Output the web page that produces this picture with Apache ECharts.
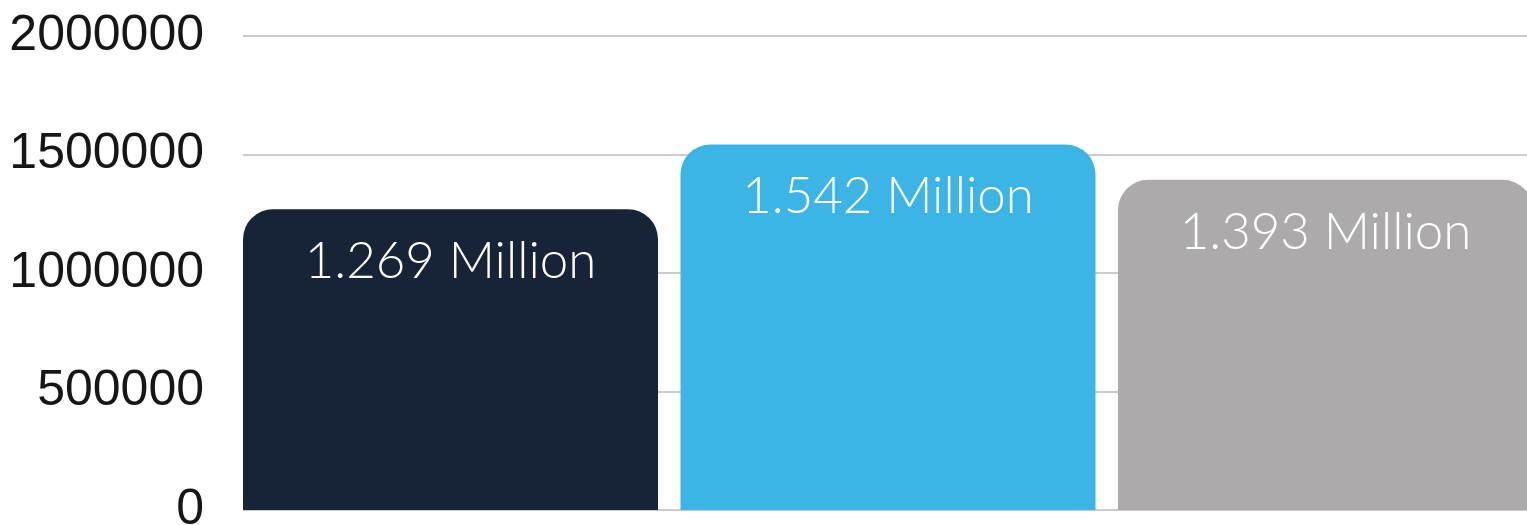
<!DOCTYPE html>
<html>
<head>
<meta charset="utf-8">
<script src="https://cdn.jsdelivr.net/npm/echarts@6/dist/echarts.min.js"></script>
<style>
html,body{margin:0;padding:0;background:#fff;}
#chart{width:1527px;height:525px;}
</style>
</head>
<body>
<div id="chart"></div>
<script>
const categories = ['A', 'B', 'C'];
const values = [1269000, 1542000, 1393000];
const valueLabels = ['1.269 Million', '1.542 Million', '1.393 Million'];
const barColors = ['#172438', '#3cb4e5', '#acaaab'];
const yTicks = [0, 500000, 1000000, 1500000, 2000000];

const chart = echarts.init(document.getElementById('chart'));
const yMin = yTicks[0], yMax = yTicks[yTicks.length - 1], yInt = yTicks[1] - yTicks[0];

chart.setOption({
  animation: false,
  grid: [
    { left: 243, right: 0, top: 36, bottom: 15, outerBoundsMode: 'none', containLabel: false },
    { left: 231.75, width: 1312.5, top: 36, bottom: 15, outerBoundsMode: 'none', containLabel: false }
  ],
  xAxis: [
    { gridIndex: 0, type: 'category', data: categories, show: false },
    { gridIndex: 1, type: 'category', data: categories, show: false }
  ],
  yAxis: [
    {
      gridIndex: 0, type: 'value', min: yMin, max: yMax, interval: yInt,
      axisLine: { show: false }, axisTick: { show: false },
      axisLabel: { margin: 39, fontSize: 50, color: '#161616', fontFamily: 'Liberation Sans, Arial, sans-serif',
        formatter: v => String(v) },
      splitLine: { lineStyle: { color: '#cccccc', width: 2 } }
    },
    {
      gridIndex: 1, type: 'value', min: yMin, max: yMax, interval: yInt, show: false,
      splitLine: { show: false }
    }
  ],
  series: [{
    type: 'bar',
    xAxisIndex: 1, yAxisIndex: 1,
    barWidth: 415,
    data: values.map((v, i) => ({ value: v, itemStyle: { color: barColors[i] } })),
    itemStyle: { borderRadius: [30, 30, 0, 0] },
    label: {
      show: true, position: 'insideTop', distance: 27,
      color: '#ffffff', fontSize: 51, fontWeight: 300, fontFamily: 'Lato, sans-serif',
      formatter: p => valueLabels[p.dataIndex]
    }
  }]
});
</script>
</body>
</html>
